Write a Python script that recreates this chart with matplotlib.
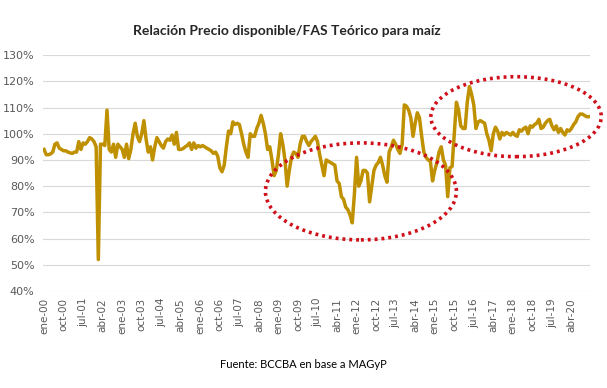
import matplotlib.pyplot as plt
from matplotlib.patches import Ellipse
import numpy as np

# Monthly ratio (%), ene-00 .. dic-20, one row per year
ratio = [
    94, 92, 92, 92.3, 93, 96, 96.5, 94.5, 94, 93.5, 93.5, 93,
    92.7, 92.5, 93, 93, 97, 94, 96.5, 96, 97, 98.5, 98, 97,
    95, 52, 96, 96, 95.5, 109, 94, 93, 96, 91, 96, 95,
    94, 91, 96, 90.5, 94, 100, 104, 99, 97, 100, 105, 98,
    93, 95, 90, 95, 98.5, 97, 95.5, 94.5, 97, 98, 97.5, 99.5,
    96, 100.5, 94, 94, 94.3, 95, 95.5, 96.5, 94, 96.5, 94.5, 95.5,
    95, 95.5, 95, 94.5, 94, 93.5, 92.5, 93, 91.5, 87, 85.5, 88,
    95, 101, 100, 104.5, 103.5, 104, 103.5, 100, 96, 93, 91, 100,
    99, 99, 102, 104, 107, 104, 100, 94, 95, 90, 84, 86,
    92, 100, 96, 90, 80, 86, 91, 93, 92.5, 91, 96, 99,
    99, 97, 95.5, 97, 98, 99, 97, 92, 88, 84, 90, 89.5,
    89, 88.5, 88, 82, 81, 76, 75, 72, 71, 69, 66, 77,
    91, 80, 82, 86, 86, 85, 74, 80, 86, 88, 89, 91,
    88, 84, 81.5, 93, 95, 97.5, 96, 94, 92.5, 96, 111, 110.5,
    109, 106, 99, 104, 108, 106, 99, 93, 91, 90, 89.5, 82,
    86, 89, 93, 95, 90, 88, 76, 87, 87.5, 100, 112, 109,
    103, 102, 102, 112, 118, 115, 111, 102, 104.5, 105, 104.5, 104,
    100, 97.5, 93.5, 100, 102.5, 101, 98, 100.5, 99.5, 100.5, 100, 99.5,
    100.5, 99.5, 99, 101.5, 101, 102, 102.5, 100, 103, 102.5, 103.5, 104,
    105.5, 102, 102.5, 104, 105, 105.5, 103, 101.5, 103, 100.5, 102, 100.5,
    99.5, 101.5, 101, 102, 103.5, 104.5, 106.5, 107.5, 107.5, 107, 106.5, 106.5,
]

tick_labels = [
    "ene-00", "oct-00", "jul-01", "abr-02", "ene-03", "oct-03", "jul-04",
    "abr-05", "ene-06", "oct-06", "jul-07", "abr-08", "ene-09", "oct-09",
    "jul-10", "abr-11", "ene-12", "oct-12", "jul-13", "abr-14", "ene-15",
    "oct-15", "jul-16", "abr-17", "ene-18", "oct-18", "jul-19", "abr-20",
]
tick_step = 9

# highlighted periods: (center month, center %, width months, height %)
ellipses = [(146, 78, 88, 37), (217.5, 106.5, 78.5, 30.5)]

fig = plt.figure(figsize=(6.07, 3.88), dpi=100)
ax = fig.add_axes([0.0708, 0.25, 0.901, 0.608])

x = np.arange(len(ratio))
ax.plot(x, ratio, color="#BF9000", lw=2.5, solid_joinstyle="round", zorder=3)

for cx, cy, w, h in ellipses:
    e = Ellipse((cx, cy), w, h, fill=False, edgecolor="#D0101A", lw=2.6,
                linestyle=(0, (0.8, 1.1)), clip_on=False, zorder=4)
    ax.add_patch(e)

ax.set_xlim(-0.5, len(ratio) - 0.5)
ax.set_ylim(40, 130)
ax.set_yticks(np.arange(40, 131, 10))
ax.set_yticklabels([f"{v}%" for v in range(40, 131, 10)])
ax.set_xticks(np.arange(len(tick_labels)) * tick_step)
ax.set_xticklabels(tick_labels, rotation=90)

ax.grid(axis="y", color="#D9D9D9", lw=0.8)
ax.set_axisbelow(True)
for s in ax.spines.values():
    s.set_visible(False)
ax.tick_params(length=0, colors="#595959", labelsize=7.5)
ax.tick_params(axis="y", pad=6, labelsize=8)
ax.tick_params(axis="x", pad=5)

fig.text(0.473, 0.92, "Relación Precio disponible/FAS Teórico para maíz",
         ha="center", va="center", fontsize=10, fontweight="bold",
         family="Lato", color="#262626")
fig.text(0.5, 0.06, "Fuente: BCCBA en base a MAGyP", ha="center",
         va="center", fontsize=8, family="Lato", color="black")

fig.savefig("out.png", dpi=100)
